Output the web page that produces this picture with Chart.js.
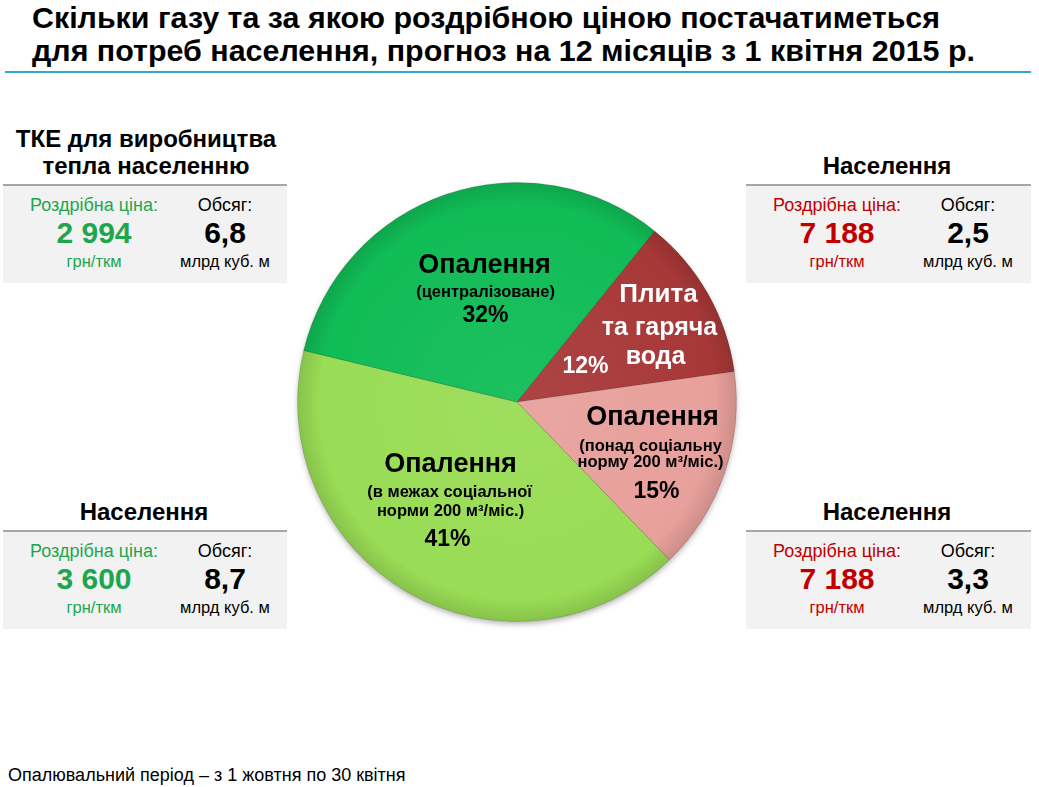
<!DOCTYPE html>
<html><head><meta charset="utf-8">
<script src="https://cdn.jsdelivr.net/npm/chart.js@4/dist/chart.umd.min.js"></script>
<style>
html,body{margin:0;padding:0;background:#fff;}
body{width:1039px;height:787px;position:relative;overflow:hidden;font-family:"Liberation Sans",Arial,sans-serif;}
.t{position:absolute;white-space:nowrap;line-height:1;transform:translate(-50%,-50%);}
.tl{position:absolute;white-space:nowrap;line-height:1;transform-origin:0 50%;transform:translateY(-50%);}
.box{position:absolute;background:#f2f2f2;border-top:2px solid #a6a6a6;}
#chartWrap{position:absolute;left:287px;top:172px;width:460px;height:460px;}
.g{color:#1ea64e;} .r{color:#c00000;}
</style></head>
<body>
<div id="title1" class="tl" style="left:32px;top:18px;font:bold 30px 'Liberation Sans Narrow','Liberation Sans',Arial;">Скільки газу та за якою роздрібною ціною постачатиметься</div>
<div id="title2" class="tl" style="left:32px;top:51px;font:bold 30px 'Liberation Sans Narrow','Liberation Sans',Arial;">для потреб населення, прогноз на 12 місяців з 1 квітня 2015 р.</div>
<div style="position:absolute;left:5px;top:71px;width:1026px;height:2px;background:#31a9cf;"></div>

<div id="boxes"></div>
<div id="chartWrap"><canvas id="c"></canvas></div>
<div id="foot" class="tl" style="left:8px;top:775px;font:18px 'Liberation Sans',Arial;color:#000;">Опалювальний період – з 1 жовтня по 30 квітня</div>

<script>
// ---- data ----
const categories = ['Плита та гаряча вода', 'Опалення (понад соціальну норму 200 м³/міс.)', 'Опалення (в межах соціальної норми 200 м³/міс.)', 'Опалення (централізоване)'];
const shares = [12, 15, 41, 32];
const sliceColors = ['#a83838', '#e8a09c', '#99dc55', '#10bc56'];

const panelTitles = ['ТКЕ для виробництва|тепла населенню', 'Населення', 'Населення', 'Населення'];
const panelPrices = ['2 994', '7 188', '3 600', '7 188'];
const panelVolumes = ['6,8', '2,5', '8,7', '3,3'];
const priceUnit = 'грн/ткм';
const volumeUnit = 'млрд куб. м';

// ---- panels layout ----
const panelLayout = [
  {x:3, w:284, top:185, cls:'g', tx:146, ty:[139,166]},
  {x:746, w:285, top:185, cls:'r', tx:887, ty:[166]},
  {x:3, w:284, top:531, cls:'g', tx:144, ty:[512]},
  {x:746, w:285, top:531, cls:'r', tx:887, ty:[512]}
];
const boxes = document.getElementById('boxes');
panelLayout.forEach((p,i)=>{
  let h='';
  h += `<div class="box" style="left:${p.x}px;top:${p.top-1}px;width:${p.w}px;height:${97}px;"></div>`;
  const tl = panelTitles[i].split('|');
  tl.forEach((s,k)=>{ h += `<div class="t" style="left:${p.tx}px;top:${p.ty[k]}px;font:bold 24px 'Liberation Sans',Arial;">${s}</div>`; });
  const cx1 = p.x + 91, cx2 = p.x + 222;
  h += `<div class="t ${p.cls}" style="left:${cx1}px;top:${p.top+20}px;font:18px 'Liberation Sans',Arial;">Роздрібна ціна:</div>`;
  h += `<div class="t ${p.cls}" style="left:${cx1}px;top:${p.top+48}px;font:bold 30px 'Liberation Sans',Arial;">${panelPrices[i]}</div>`;
  h += `<div class="t ${p.cls}" style="left:${cx1}px;top:${p.top+76}px;font:16.5px 'Liberation Sans',Arial;">${priceUnit}</div>`;
  h += `<div class="t" style="left:${cx2}px;top:${p.top+20}px;font:18px 'Liberation Sans',Arial;">Обсяг:</div>`;
  h += `<div class="t" style="left:${cx2}px;top:${p.top+48}px;font:bold 30px 'Liberation Sans',Arial;">${panelVolumes[i]}</div>`;
  h += `<div class="t" style="left:${cx2}px;top:${p.top+76}px;font:16.5px 'Liberation Sans',Arial;">${volumeUnit}</div>`;
  boxes.insertAdjacentHTML('beforeend', h);
});

// fit title widths
function fitWidth(id, target){
  const el = document.getElementById(id);
  const w = el.getBoundingClientRect().width;
  el.style.transform = `translateY(-50%) scaleX(${target/w})`;
}
fitWidth('title1', 908);
fitWidth('title2', 943);

// ---- slice label layout (relative to arc anchor) ----
const sliceLabels = [
  {color:'#fff', lines:[['Плита',26,27,-42],['та гаряча',25,28,-9],['вода',25,24,20],['12%',23,-46,30]]},
  {color:'#000', lines:[['Опалення',27,11,-27],['(понад соціальну',16.5,9,2],['норму 200 м³/міс.)',16.5,9,18],['15%',23,15,47]]},
  {color:'#000', lines:[['Опалення',27,-1,-52],['(в межах соціальної',16.5,-2,-24],['норми 200 м³/міс.)',16.5,-1,-5],['41%',23,-4,23]]},
  {color:'#000', lines:[['Опалення',27,10,-12],['(централізоване)',16.5,11,15],['32%',23,11,38]]}
];

function shade(hex, f){
  const n = parseInt(hex.slice(1),16);
  let r=(n>>16)&255,g=(n>>8)&255,b=n&255;
  const m = v => Math.max(0,Math.min(255,Math.round(f>0? v+(255-v)*f : v*(1+f))));
  return `rgb(${m(r)},${m(g)},${m(b)})`;
}

const labelPlugin = {
  id:'sliceLabels',
  beforeDatasetsDraw(chart){
    const arc = chart.getDatasetMeta(0).data[0];
    if(!arc) return;
    const ctx = chart.ctx;
    ctx.save();
    ctx.shadowColor='rgba(0,0,0,0.35)';
    ctx.shadowBlur=6; ctx.shadowOffsetY=3;
    ctx.beginPath(); ctx.arc(arc.x, arc.y, arc.outerRadius-1, 0, Math.PI*2);
    ctx.fillStyle='#888'; ctx.fill();
    ctx.restore();
  },
  afterDatasetsDraw(chart){
    const ctx = chart.ctx;
    const meta = chart.getDatasetMeta(0);
    meta.data.forEach((a,i)=>{
      const mid = (a.startAngle + a.endAngle)/2;
      const ax = a.x + Math.cos(mid)*a.outerRadius*0.6;
      const ay = a.y + Math.sin(mid)*a.outerRadius*0.6;
      const L = sliceLabels[i];
      ctx.save();
      ctx.fillStyle = L.color;
      ctx.textAlign='center'; ctx.textBaseline='middle';
      L.lines.forEach(([t,sz,dx,dy])=>{
        ctx.font = `bold ${sz}px 'Liberation Sans', Arial`;
        ctx.fillText(t, ax+dx, ay+dy);
      });
      ctx.restore();
    });
  }
};

new Chart(document.getElementById('c'), {
  type:'pie',
  data:{
    labels:categories,
    datasets:[{
      data:shares,
      backgroundColor:(ctx)=>{
        const chart = ctx.chart; const base = sliceColors[ctx.dataIndex];
        const ca = chart.chartArea;
        if(!ca) return base;
        const cx=(ca.left+ca.right)/2, cy=(ca.top+ca.bottom)/2;
        const r=Math.min(ca.right-ca.left, ca.bottom-ca.top)/2;
        const g = chart.ctx.createRadialGradient(cx,cy,0,cx,cy,r);
        g.addColorStop(0, shade(base,0.06));
        g.addColorStop(0.9, base);
        g.addColorStop(1, shade(base,-0.12));
        return g;
      },
      borderColor:'rgba(0,0,0,0.12)',
      borderWidth:1
    }]
  },
  options:{
    responsive:true, maintainAspectRatio:false, animation:false,
    rotation:38.8,
    layout:{padding:10},
    plugins:{legend:{display:false}, tooltip:{enabled:false}}
  },
  plugins:[labelPlugin]
});
</script>
</body></html>
